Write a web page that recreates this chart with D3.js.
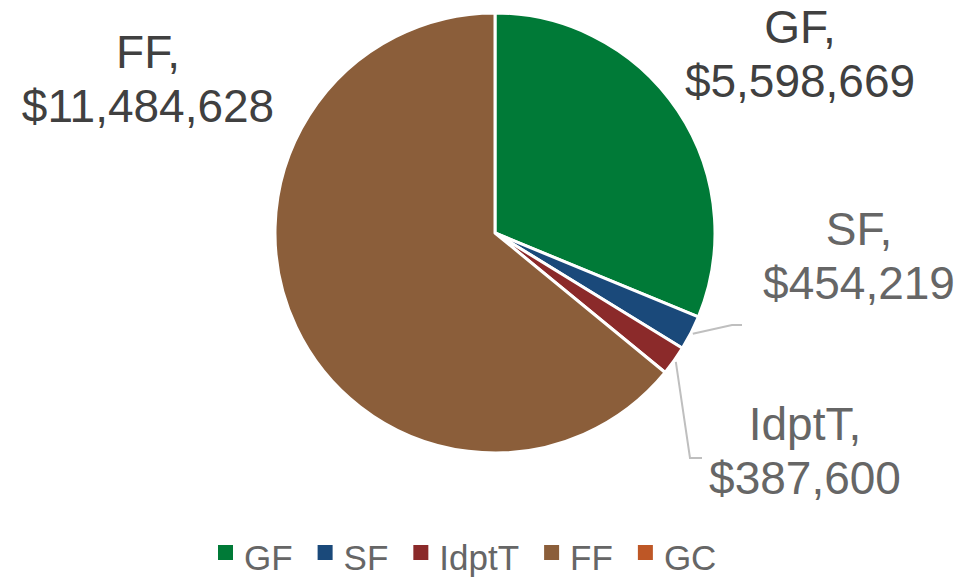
<!DOCTYPE html>
<html>
<head>
<meta charset="utf-8">
<script src="https://cdn.jsdelivr.net/npm/d3@7"></script>
<style>
  body { margin: 0; background: #fff; }
  text { font-family: Arial, "Liberation Sans", sans-serif; }
</style>
</head>
<body>
<div class="chart"></div>
<script>
// DATA ------------------------------
let categories = ["GF", "SF", "IdptT", "FF", "GC"];
let values = [5598669, 454219, 387600, 11484628, 0];
let colors = ["#007A37", "#1A497A", "#8B2A2A", "#8B5E3A", "#BE5726"];
let labelColors = ["#404040", "#666666", "#666666", "#404040", "#666666"];

// label placement (center x, first baseline) and leader lines
let labelPos = {
  GF: [800, 43],
  SF: [859, 245],
  IdptT: [805, 440],
  FF: [148, 68]
};
let leaders = {
  SF: [[732, 325], [742, 325]],
  IdptT: [[690, 458], [702, 458]]
};

let width = 965, height = 577;
let cx = 495, cy = 233, radius = 220;

let svg = d3.select(".chart")
  .append("svg")
  .attr("width", width)
  .attr("height", height);

let data = categories.map((c, i) => ({ name: c, value: values[i], color: colors[i] }));

let pie = d3.pie().sort(null).value(d => d.value);
let arc = d3.arc().innerRadius(0).outerRadius(radius);
let arcs = pie(data);

let g = svg.append("g").attr("transform", "translate(" + cx + "," + cy + ")");

g.selectAll("path.slice")
  .data(arcs.filter(d => d.data.value > 0))
  .enter()
  .append("path")
  .attr("class", "slice")
  .attr("d", arc)
  .attr("fill", d => d.data.color)
  .attr("stroke", "#fff")
  .attr("stroke-width", 3)
  .attr("stroke-linejoin", "round");

// leader lines start on the slice edge at its mid angle
arcs.forEach(d => {
  let pts = leaders[d.data.name];
  if (!pts) return;
  let a = (d.startAngle + d.endAngle) / 2;
  let start = [cx + Math.sin(a) * (radius + 2), cy - Math.cos(a) * (radius + 2)];
  svg.append("polyline")
    .attr("points", [start].concat(pts).map(p => p.join(",")).join(" "))
    .attr("fill", "none")
    .attr("stroke", "#BFBFBF")
    .attr("stroke-width", 2);
});

// data labels
let fmt = d3.format(",");
arcs.forEach((d, i) => {
  let p = labelPos[d.data.name];
  if (!p) return;
  let t = svg.append("text")
    .attr("text-anchor", "middle")
    .attr("font-size", 46)
    .attr("fill", labelColors[i]);
  t.append("tspan").attr("x", p[0]).attr("y", p[1]).text(d.data.name + ",");
  t.append("tspan").attr("x", p[0]).attr("y", p[1] + 54).text("$" + fmt(d.data.value));
});

// legend
let legend = svg.append("g").attr("class", "legend");
let lx = 218;
categories.forEach((c, i) => {
  let item = legend.append("g").attr("transform", "translate(" + lx + ",0)");
  item.append("rect")
    .attr("x", 0).attr("y", 545)
    .attr("width", 15).attr("height", 15)
    .attr("fill", colors[i]);
  let txt = item.append("text")
    .attr("x", 26).attr("y", 570)
    .attr("font-size", 35)
    .attr("fill", "#666666")
    .text(c);
  lx += 26 + txt.node().getComputedTextLength() + 25;
});
</script>
</body>
</html>
